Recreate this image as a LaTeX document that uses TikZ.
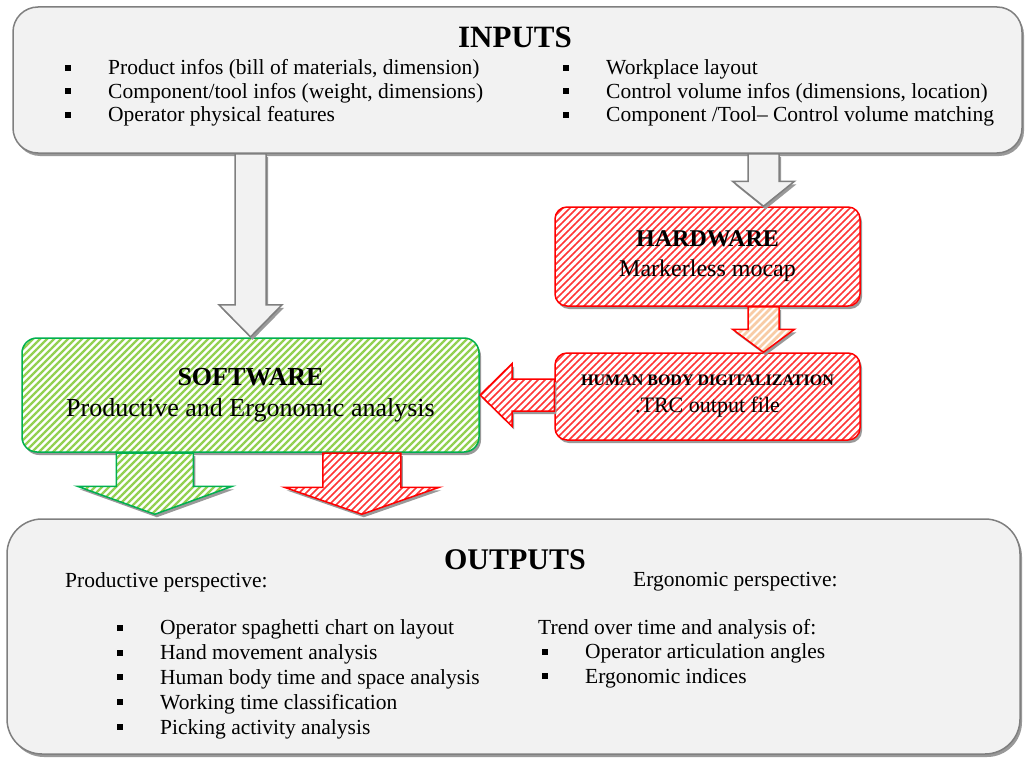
\documentclass[tikz,border=0pt]{standalone}
\usepackage{fontspec}
\setmainfont{Liberation Serif}
\usetikzlibrary{calc,shadows,patterns.meta}

\definecolor{boxgray}{HTML}{F2F2F2}
\definecolor{linegray}{HTML}{7F7F7F}
\definecolor{hwred}{HTML}{FF0000}
\definecolor{swgreen}{HTML}{00B050}
\definecolor{swlight}{HTML}{92D050}
\definecolor{peach}{HTML}{F8CBA4}

%% square bullet followed by the gap up to the text
\newcommand{\sqbullet}{\makebox[43pt][l]{\rule[4pt]{6pt}{6pt}}}
%% block arrow: #1 style, #2 tail, #3 tip, #4 half shaft, #5 half head, #6 head length
\newcommand{\blockarrow}[6]{%
  \coordinate (ba) at ($(#3)!#6!(#2)$);
  \path[#1] ($(#2)!#4!90:(#3)$) -- ($(ba)!#4!90:(#3)$) -- ($(ba)!#5!90:(#3)$) -- (#3)
    -- ($(ba)!#5!-90:(#3)$) -- ($(ba)!#4!-90:(#3)$) -- ($(#2)!#4!-90:(#3)$) -- cycle;}

\tikzset{
  shade/.style={drop shadow={shadow xshift=2pt, shadow yshift=-3pt, fill=black!40, opacity=1}},
  graybox/.style={shade, draw=linegray, line width=1.5pt, fill=boxgray},
  hatch/.style={shade, line width=1.5pt, preaction={fill=white}},
  redhatch/.style={hatch, draw=hwred, pattern color=hwred!80,
    pattern={Lines[angle=45,distance=4.95pt,line width=1.5pt]}},
  greenhatch/.style={hatch, draw=swgreen, pattern color=swlight,
    pattern={Lines[angle=45,distance=4.95pt,line width=2.3pt]}},
  peachhatch/.style={hatch, draw=hwred, pattern color=peach,
    pattern={Lines[angle=45,distance=4.95pt,line width=2.8pt]}},
  txt/.style={inner sep=0pt},
}

\begin{document}
\begin{tikzpicture}[x=1pt,y=-1pt]
  \useasboundingbox (0,0) rectangle (1027,757);

  %% inputs
  \node[graybox, rounded corners=25pt, minimum width=1009pt, minimum height=146pt] (inputs) at (517.5,80) {};
  \node[txt, font=\fontsize{31}{33}\selectfont\bfseries] (intitle) at (515,37) {INPUTS};
  \node[txt, anchor=west, font=\fontsize{21.5}{23.5}\selectfont] (inleft) at (65,93.5) {\begin{tabular}{@{}l@{}}
    \sqbullet Product infos (bill of materials, dimension)\\
    \sqbullet Component/tool infos (weight, dimensions)\\
    \sqbullet Operator physical features
  \end{tabular}};
  \node[txt, anchor=west, font=\fontsize{21.5}{23.5}\selectfont] (inright) at (563,93.5) {\begin{tabular}{@{}l@{}}
    \sqbullet Workplace layout\\
    \sqbullet Control volume infos (dimensions, location)\\
    \sqbullet Component /Tool-- Control volume matching
  \end{tabular}};

  %% hardware chain
  \node[redhatch, rounded corners=12pt, minimum width=305pt, minimum height=99pt, align=center,
    font=\fontsize{24}{30}\selectfont] (hardware) at (707.5,256.5) {\textbf{HARDWARE}\\Markerless mocap};
  \node[redhatch, rounded corners=12pt, minimum width=305pt, minimum height=87pt, align=center,
    font=\fontsize{22}{27}\selectfont] (human) at (707.5,396.5)
    {{\fontsize{16}{27}\selectfont\bfseries HUMAN BODY DIGITALIZATION}\\.TRC output file};

  %% software
  \node[greenhatch, rounded corners=15pt, minimum width=457pt, minimum height=114pt, align=center,
    font=\fontsize{26}{31}\selectfont] (software) at (250.5,395) {\textbf{SOFTWARE}\\Productive and Ergonomic analysis};

  %% outputs
  \node[graybox, rounded corners=35pt, minimum width=1013pt, minimum height=235pt] (outputs) at (513.5,636.5) {};
  \node[txt, font=\fontsize{30}{32}\selectfont\bfseries] (outtitle) at (515,560) {OUTPUTS};
  \node[txt, anchor=west, font=\fontsize{21.5}{24}\selectfont] (prodhead) at (65,582) {Productive perspective:};
  \node[txt, anchor=west, font=\fontsize{21.5}{24}\selectfont] (ergohead) at (633,582) {Ergonomic perspective:};
  \node[txt, anchor=west, font=\fontsize{21.5}{24.8}\selectfont] (prodlist) at (117,679.5) {\begin{tabular}{@{}l@{}}
    \sqbullet Operator spaghetti chart on layout\\
    \sqbullet Hand movement analysis\\
    \sqbullet Human body time and space analysis\\
    \sqbullet Working time classification\\
    \sqbullet Picking activity analysis
  \end{tabular}};
  \node[txt, anchor=west, font=\fontsize{21.5}{24.5}\selectfont] (ergolist) at (538,654) {\begin{tabular}{@{}l@{}}
    Trend over time and analysis of:\\
    \hspace{4pt}\sqbullet Operator articulation angles\\
    \hspace{4pt}\sqbullet Ergonomic indices
  \end{tabular}};

  %% connectors
  \coordinate (sw-in) at (inputs.south -| software.north);
  \coordinate (hw-tip) at ($(hardware.north)+(56,0)$);
  \coordinate (hw-tail) at (inputs.south -| hw-tip);
  \coordinate (hw-out) at (hardware.south -| hw-tip);
  \coordinate (hm-in) at (human.north -| hw-tip);
  \coordinate (hm-out) at (human.west |- software.east);
  \coordinate (sw-g) at ($(software.south west)+(134,0)$);
  \coordinate (out-g) at ($(outputs.north -| sw-g)+(0,-4)$);
  \coordinate (sw-r) at ($(software.south west)+(341,0)$);
  \coordinate (out-r) at ($(outputs.north -| sw-r)+(0,-4)$);

  \blockarrow{graybox, line join=miter}{sw-in}{software.north}{15.5pt}{31.5pt}{32pt}
  \blockarrow{graybox, line join=miter}{hw-tail}{hardware.north -| hw-tip}{15.5pt}{31pt}{25pt}
  \blockarrow{peachhatch, line join=miter}{hw-out}{hm-in}{15.5pt}{31pt}{23pt}
  \blockarrow{redhatch, line join=miter}{hm-out}{software.east}{16pt}{31.5pt}{32pt}
  \blockarrow{greenhatch, line join=miter}{sw-g}{out-g}{38.5pt}{77.5pt}{28pt}
  \blockarrow{redhatch, line join=miter}{sw-r}{out-r}{39pt}{77.5pt}{27pt}
\end{tikzpicture}
\end{document}
